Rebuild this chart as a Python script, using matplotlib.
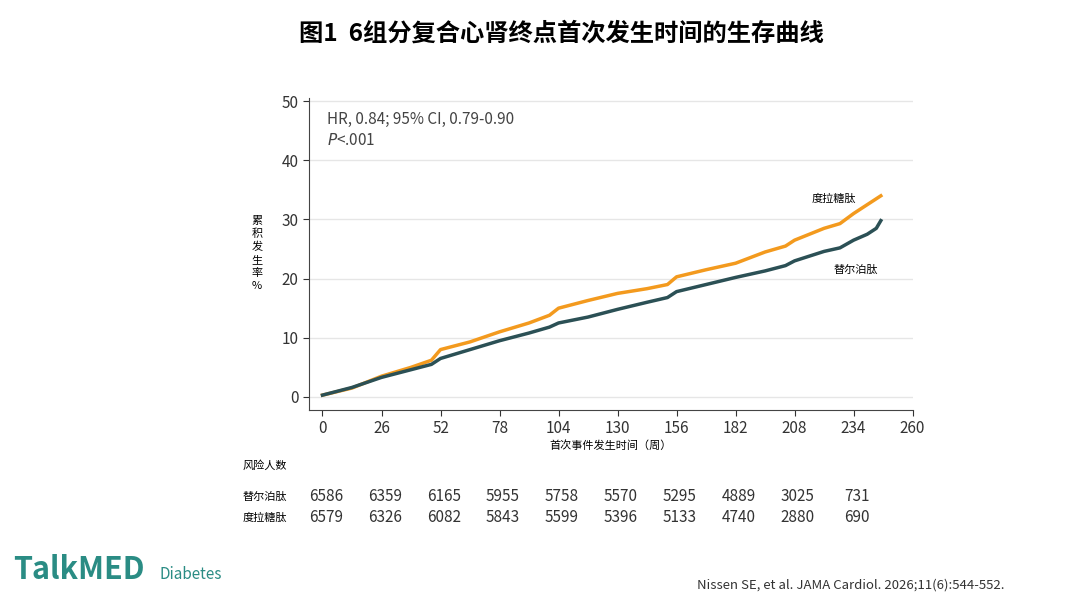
import matplotlib.pyplot as plt

plt.rcParams['font.family'] = ['Noto Sans CJK SC', 'DejaVu Sans']

weeks = [0, 13, 26, 39, 48, 52, 65, 78, 91, 100, 104, 117, 130, 143, 152, 156,
         169, 182, 195, 204, 208, 221, 228, 234, 240, 244, 246]
dula = [0.3, 1.5, 3.5, 5.0, 6.2, 8.0, 9.3, 11.0, 12.5, 13.8, 15.0, 16.3, 17.5,
        18.3, 19.0, 20.3, 21.5, 22.6, 24.5, 25.5, 26.5, 28.5, 29.3, 31.0, 32.5, 33.5, 34.0]
tirz = [0.3, 1.6, 3.3, 4.6, 5.5, 6.5, 8.0, 9.5, 10.8, 11.8, 12.5, 13.5, 14.8,
        16.0, 16.8, 17.8, 19.0, 20.2, 21.3, 22.2, 23.0, 24.6, 25.2, 26.5, 27.5, 28.5, 29.8]
ticks = [0, 26, 52, 78, 104, 130, 156, 182, 208, 234, 260]
risk_tirz = [6586, 6359, 6165, 5955, 5758, 5570, 5295, 4889, 3025, 731]
risk_dula = [6579, 6326, 6082, 5843, 5599, 5396, 5133, 4740, 2880, 690]

orange = '#F39A1E'
teal = '#2B5055'

fig = plt.figure(figsize=(10.8, 6.1), dpi=100)
ax = fig.add_axes([0.286, 0.328, 0.559, 0.511])
ax.plot(weeks, dula, color=orange, lw=2.5)
ax.plot(weeks, tirz, color=teal, lw=2.5)
ax.set_xlim(-6, 260)
ax.set_ylim(-2.2, 50.5)
ax.set_xticks(ticks)
ax.set_yticks([0, 10, 20, 30, 40, 50])
ax.tick_params(labelsize=11, colors='#333333', length=4)
ax.grid(axis='y', color='#e6e6e6', lw=1)
ax.set_axisbelow(True)
for s in ['top', 'right']:
    ax.spines[s].set_visible(False)
for s in ['left', 'bottom']:
    ax.spines[s].set_color('#444444')
ax.set_xlabel('首次事件发生时间（周）', fontsize=8, labelpad=2)

ax.text(2, 46.2, 'HR, 0.84; 95% CI, 0.79-0.90', fontsize=11, color='#444444')
ax.text(2, 42.6, '$P$<.001', fontsize=11, color='#444444')
ax.text(235, 33, '度拉糖肽', fontsize=8, ha='right')
ax.text(245, 21, '替尔泊肽', fontsize=8, ha='right')

fig.text(0.238, 0.585, '累\n积\n发\n生\n率\n%', fontsize=8, ha='center', va='center',
         linespacing=1.35)

fig.text(0.52, 0.945, '图1  6组分复合心肾终点首次发生时间的生存曲线', fontsize=17.5,
         fontweight='bold', ha='center', va='center')

fig.text(0.225, 0.237, '风险人数', fontsize=8, va='center')
fig.text(0.225, 0.186, '替尔泊肽', fontsize=8, va='center')
fig.text(0.225, 0.151, '度拉糖肽', fontsize=8, va='center')
for i in range(len(risk_tirz)):
    x = ax.transData.transform((ticks[i], 0))[0] / fig.bbox.width
    fig.text(x + 0.003, 0.186, str(risk_tirz[i]), fontsize=11, ha='center', va='center',
             color='#333333')
    fig.text(x + 0.003, 0.151, str(risk_dula[i]), fontsize=11, ha='center', va='center',
             color='#333333')

fig.text(0.012, 0.04, 'TalkMED', fontsize=22, fontweight='bold', color='#2A8C84',
         va='bottom')
fig.text(0.148, 0.045, 'Diabetes', fontsize=11, style='italic', color='#2A8C84',
         va='bottom')
fig.text(0.645, 0.03, 'Nissen SE, et al. JAMA Cardiol. 2026;11(6):544-552.', fontsize=9.5,
         color='#333333', va='bottom')

fig.savefig('out.png')
